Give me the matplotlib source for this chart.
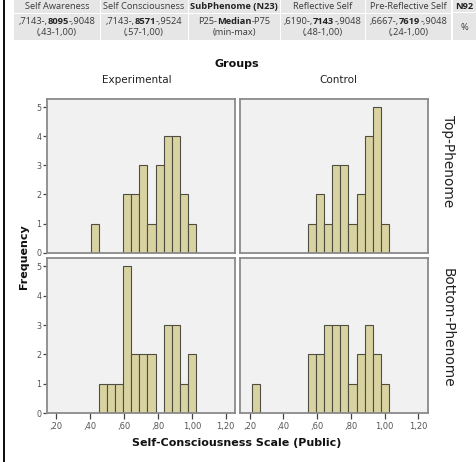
import matplotlib
matplotlib.use("Agg")
import matplotlib.pyplot as plt
from matplotlib.patches import Rectangle
from matplotlib.offsetbox import TextArea, HPacker, VPacker, AnnotationBbox

# ---------------- data ----------------
# bin centres (scale scores) and frequencies per panel
tl_x = [0.4286, 0.6190, 0.6667, 0.7143, 0.7619, 0.8095, 0.8571, 0.9048, 0.9524, 1.0000]
tl_n = [1, 2, 2, 3, 1, 3, 4, 4, 2, 1]
tr_x = [0.5714, 0.6190, 0.6667, 0.7143, 0.7619, 0.8095, 0.8571, 0.9048, 0.9524, 1.0000]
tr_n = [1, 2, 1, 3, 3, 1, 2, 4, 5, 1]
bl_x = [0.4762, 0.5238, 0.5714, 0.6190, 0.6667, 0.7143, 0.7619, 0.8571, 0.9048, 0.9524, 1.0000]
bl_n = [1, 1, 1, 5, 2, 2, 2, 3, 3, 1, 2]
br_x = [0.2381, 0.5714, 0.6190, 0.6667, 0.7143, 0.7619, 0.8095, 0.8571, 0.9048, 0.9524, 1.0000]
br_n = [1, 2, 2, 3, 3, 3, 1, 2, 3, 2, 1]

col_labels = ["Experimental", "Control"]
row_labels = ["Top-Phenome", "Bottom-Phenome"]
x_ticks = [0.2, 0.4, 0.6, 0.8, 1.0, 1.2]
x_ticklabels = [",20", ",40", ",60", ",80", "1,00", "1,20"]
y_ticks = [0, 1, 2, 3, 4, 5]

header_row1 = ["Self Awareness", "Self Consciousness", "SubPhenome (N23)",
               "Reflective Self", "Pre-Reflective Self", "N92"]
header_row1_bold = [False, False, True, False, False, True]
header_row2 = [([",7143-,", "8095", "-,9048"], "(,43-1,00)"),
               ([",7143-,", "8571", "-,9524"], "(,57-1,00)"),
               (["P25-", "Median", "-P75"], "(min-max)"),
               ([",6190-,", "7143", "-,9048"], "(,48-1,00)"),
               ([",6667-,", "7619", "-,9048"], "(,24-1,00)"),
               None]

W, H = 476, 462
fig = plt.figure(figsize=(W / 100, H / 100), dpi=100)
fig.patch.set_facecolor("white")

def fx(px):
    return px / W

def fy(py):
    return 1 - py / H

HFONT = "Open Sans"
CFONT = "DejaVu Sans"

# ---------------- header table ----------------
col_edges = [14, 100, 188, 280, 365, 452, 476]
r1 = (0, 12.5)
r2 = (13.5, 40)
cell_bg = "#e6e6e6"
for i in range(6):
    x0 = col_edges[i] + (0.5 if i > 0 else 0)
    x1 = col_edges[i + 1] - 0.5
    if i < 5:
        for (ya, yb) in (r1, r2):
            fig.add_artist(Rectangle((fx(x0), fy(yb)), fx(x1) - fx(x0), fy(ya) - fy(yb),
                                     transform=fig.transFigure, facecolor=cell_bg,
                                     edgecolor="none", zorder=0))
    else:
        fig.add_artist(Rectangle((fx(x0), fy(r2[1])), fx(x1 + 1) - fx(x0), fy(r1[0]) - fy(r2[1]),
                                 transform=fig.transFigure, facecolor=cell_bg,
                                 edgecolor="none", zorder=0))
        fig.add_artist(Rectangle((fx(x0), fy(r1[1]) - 0.5 / H), fx(x1 + 1) - fx(x0), 1.0 / H,
                                 transform=fig.transFigure, facecolor="white",
                                 edgecolor="none", zorder=0))

hsize = 6.7
hcol = "#3a3a3a"
for i, lab in enumerate(header_row1):
    cx = (col_edges[i] + col_edges[i + 1]) / 2
    fig.text(fx(cx), fy(6.8), lab, ha="center", va="center", fontsize=hsize,
             family=HFONT, color="#222222" if header_row1_bold[i] else hcol,
             fontweight="bold" if header_row1_bold[i] else "normal")

for i, item in enumerate(header_row2):
    cx = (col_edges[i] + col_edges[i + 1]) / 2
    if item is None:
        fig.text(fx(cx), fy(27.5), "%", ha="center", va="center", fontsize=hsize,
                 family=HFONT, color=hcol)
        continue
    parts, line2 = item
    tp = dict(fontsize=hsize, family=HFONT, color=hcol)
    tb = dict(fontsize=hsize, family=HFONT, color="#222222", fontweight="bold")
    l1 = HPacker(children=[TextArea(parts[0], textprops=tp),
                           TextArea(parts[1], textprops=tb),
                           TextArea(parts[2], textprops=tp)], sep=0, pad=0, align="baseline")
    l2 = TextArea(line2, textprops=tp)
    box = VPacker(children=[l1, l2], sep=1.0, pad=0, align="center")
    ab = AnnotationBbox(box, (fx(cx), fy(27)), xycoords="figure fraction",
                        box_alignment=(0.5, 0.5), frameon=False, pad=0)
    fig.add_artist(ab)

# left black border
fig.add_artist(Rectangle((fx(2.5), 0), fx(2.5), 1, transform=fig.transFigure,
                         facecolor="#111111", edgecolor="none"))

# ---------------- panels ----------------
lefts = [46.7, 240.0]
rights = [235.0, 427.7]
tops = [99.3, 258.3]
bottoms = [252.7, 413.3]

data = [[(tl_x, tl_n), (tr_x, tr_n)], [(bl_x, bl_n), (br_x, br_n)]]
bin_w = 1 / 21

face = "#f1f1f1"
spine_c = "#8a8a8a"
bar_fc = "#d9d3a2"
bar_ec = "#4f4e42"
tick_c = "#555555"

for r in range(2):
    for c in range(2):
        ax = fig.add_axes([fx(lefts[c]), fy(bottoms[r]),
                           fx(rights[c]) - fx(lefts[c]), fy(tops[r]) - fy(bottoms[r])])
        ax.set_facecolor(face)
        xs, ns = data[r][c]
        ax.bar(xs, ns, width=bin_w, color=bar_fc, edgecolor=bar_ec, linewidth=0.8,
               zorder=2)
        ax.set_xlim(0.143, 1.255)
        ax.set_ylim(0, 5.27)
        for s in ax.spines.values():
            s.set_color(spine_c)
            s.set_linewidth(1.3)
        ax.set_xticks(x_ticks)
        ax.set_yticks(y_ticks)
        if r == 1:
            ax.set_xticklabels(x_ticklabels, fontsize=6, color=tick_c, family=CFONT)
            ax.tick_params(axis="x", length=4, width=0.9, color="#444444", pad=2)
        else:
            ax.tick_params(axis="x", length=0, labelbottom=False)
        if c == 0:
            ax.set_yticklabels([str(v) for v in y_ticks], fontsize=5.8, color=tick_c,
                               family=CFONT)
            ax.tick_params(axis="y", length=3, width=0.9, color="#444444", pad=1)
        else:
            ax.tick_params(axis="y", length=0, labelleft=False)

# facet labels
fig.text(fx(237), fy(64), "Groups", ha="center", va="center", fontsize=8,
         fontweight="bold", family=CFONT, color="#111111")
fig.text(fx(137), fy(80), col_labels[0], ha="center", va="center", fontsize=7.5,
         family=CFONT, color="#222222")
fig.text(fx(338), fy(80), col_labels[1], ha="center", va="center", fontsize=7.5,
         family=CFONT, color="#222222")
fig.text(fx(448), fy(161), row_labels[0], ha="center", va="center", fontsize=9.8,
         rotation=-90, family=CFONT, color="#222222")
fig.text(fx(448), fy(328), row_labels[1], ha="center", va="center", fontsize=9.8,
         rotation=-90, family=CFONT, color="#222222")
fig.text(fx(24), fy(257), "Frequency", ha="center", va="center", fontsize=8,
         rotation=90, fontweight="bold", family=CFONT, color="#111111")
fig.text(fx(237), fy(443), "Self-Consciousness Scale (Public)", ha="center", va="center",
         fontsize=8, fontweight="bold", family=CFONT, color="#111111")

fig.savefig("out.png", dpi=100, facecolor="white")
